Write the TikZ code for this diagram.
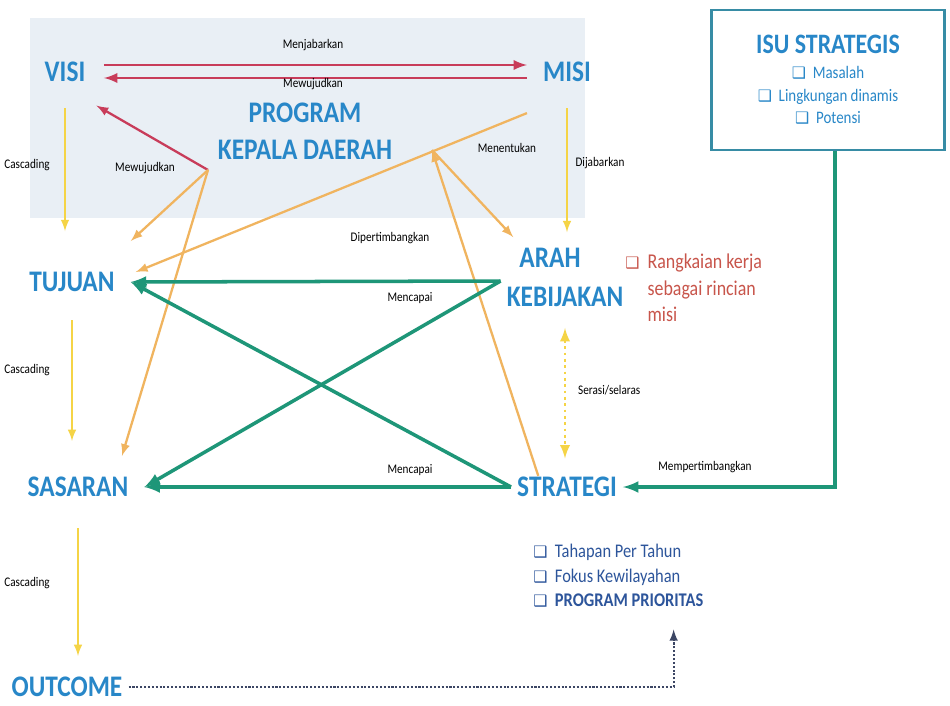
\documentclass[tikz,border=0pt]{standalone}
\usepackage{fontspec}
\setmainfont{Carlito}[FakeStretch=0.85]
\newfontfamily\boxfont{DejaVu Sans}
\usetikzlibrary{calc}

\definecolor{kdblue}{RGB}{40,135,200}
\definecolor{kddark}{RGB}{45,85,155}
\definecolor{kdred}{RGB}{200,60,90}
\definecolor{kdnote}{RGB}{200,85,75}
\definecolor{kdorange}{RGB}{240,180,95}
\definecolor{kdyellow}{RGB}{245,212,70}
\definecolor{kdgreen}{RGB}{30,150,120}
\definecolor{kdback}{RGB}{233,239,245}
\definecolor{kdframe}{RGB}{55,140,165}
\definecolor{kddots}{RGB}{60,70,100}

\newcommand{\cbox}{{\boxfont\small ❑}}

\begin{document}
\begin{tikzpicture}[>=latex, x=0.02cm, y=-0.02cm,
    big/.style={font=\bfseries\fontsize{17}{20}\selectfont, text=kdblue},
    small/.style={font=\fontsize{7.5}{9}\selectfont, text=black},
    redline/.style={draw=kdred, line width=1.6pt},
    orangeline/.style={draw=kdorange, line width=1.3pt},
    yellowline/.style={draw=kdyellow, line width=1.2pt},
    greenline/.style={draw=kdgreen, line width=2pt}]

% white page and shaded band of the top part
\useasboundingbox (0,0) rectangle (950,706);
\fill[white] (0,0) rectangle (950,706);
\fill[kdback] (30,18) rectangle (585,218);

% main terms
\node[big] (visi) at (65,72) {VISI};
\node[big] (misi) at (567,72) {MISI};
\node[big] (program) at (305,113) {PROGRAM};
\node[big] (kepala) at (305,150) {KEPALA DAERAH};
\node[big] (tujuan) at (72,282) {TUJUAN};
\node[big] (arah) at (550,258) {ARAH};
\node[big] (kebijakan) at (565,297) {KEBIJAKAN};
\node[big] (sasaran) at (78,487) {SASARAN};
\node[big] (strategi) at (567,487) {STRATEGI};
\node[big] (outcome) at (67,687) {OUTCOME};

% junctions under the program of the head of region
\coordinate (pkl) at (208,170);
\coordinate (pkr) at (432,150);

% strategic issues
\node[draw=kdframe, line width=1.2pt, minimum width=4.66cm, minimum height=2.8cm,
      align=center, text=kdblue] (isu) at (828,80)
    {{\bfseries\fontsize{16}{18}\selectfont ISU STRATEGIS}\\[2pt]
     \cbox\ \ Masalah\\[1pt]
     \cbox\ \ Lingkungan dinamis\\[1pt]
     \cbox\ \ Potensi};

% notes
\node[anchor=north west, text=kdnote, font=\fontsize{12}{15}\selectfont, inner sep=0pt]
    (note) at (625,250)
    {\begin{tabular}{@{}l@{\ \ }l@{}}
       \cbox & Rangkaian kerja\\
             & sebagai rincian\\
             & misi
     \end{tabular}};
\node[anchor=north west, text=kddark, font=\fontsize{11}{14}\selectfont, inner sep=0pt]
    (items) at (533,540)
    {\begin{tabular}{@{}l@{\ \ }l@{}}
       \cbox & Tahapan Per Tahun\\
       \cbox & Fokus Kewilayahan\\
       \cbox & \bfseries PROGRAM PRIORITAS
     \end{tabular}};

% visi and misi
\draw[redline,->] ([xshift=0.25cm,yshift=0.14cm]visi.east) -- ([xshift=-0.2cm,yshift=0.14cm]misi.west);
\draw[redline,->] ([xshift=-0.2cm,yshift=-0.12cm]misi.west) -- ([xshift=0.25cm,yshift=-0.12cm]visi.east);
\node[small] (menjabarkan) at (313,45) {Menjabarkan};
\node[small] (mewujudkan) at (313,84) {Mewujudkan};

% program kepala daerah
\draw[redline, line width=1.3pt, ->] (pkl) -- ([xshift=0.1cm,yshift=-0.35cm]visi.south east);
\node[small] (mewujudkan2) at (145,168) {Mewujudkan};
\draw[orangeline,->] (pkl) -- ([xshift=0.2cm,yshift=0.5cm]tujuan.north east);
\draw[orangeline,->] (pkl) -- ([xshift=-0.25cm,yshift=0.3cm]sasaran.north east);
\draw[orangeline,->] ([xshift=-0.2cm,yshift=-0.5cm]misi.south west) -- ([xshift=0.3cm,yshift=0.2cm]tujuan.east);
\node[small] (menentukan) at (507,148) {Menentukan};
\draw[orangeline,->] (pkr) -- ([yshift=0.1cm]arah.north west);
\draw[orangeline,->] ([xshift=0.5cm,yshift=-0.1cm]arah.south west |- strategi.north) -- (pkr);
\node[small] (dipertimbangkan) at (390,238) {Dipertimbangkan};

% cascading
\draw[yellowline,->, shorten <=0.4cm, shorten >=0.7cm] (visi.south) -- (visi.south |- tujuan.north);
\draw[yellowline,->, shorten <=0.45cm, shorten >=0.6cm] (tujuan.south) -- (tujuan.south |- sasaran.north);
\draw[yellowline,->, shorten <=0.5cm, shorten >=0.3cm] (sasaran.south) -- (sasaran.south |- outcome.north);
\draw[yellowline,->, shorten <=0.4cm, shorten >=0.2cm] (misi.south) -- (misi.south |- arah.north);
\node[small] (cas1) at (27,165) {Cascading};
\node[small] (cas2) at (27,370) {Cascading};
\node[small] (cas3) at (27,583) {Cascading};
\node[small] (dijabarkan) at (600,163) {Dijabarkan};

% mencapai
\draw[greenline,->] (kebijakan.north west) -- ([xshift=0.2cm]tujuan.east);
\draw[greenline,->] (kebijakan.north west) -- ([xshift=0.2cm]sasaran.east);
\draw[greenline,->] (strategi.west) -- ([xshift=0.2cm]sasaran.east);
\draw[greenline,->] (strategi.west) -- ([xshift=0.2cm]tujuan.east);
\node[small] (mencapai1) at (410,298) {Mencapai};
\node[small] (mencapai2) at (410,470) {Mencapai};

% serasi
\draw[draw=kdyellow, line width=1.6pt, dotted, <->, shorten <=0.3cm, shorten >=0.25cm]
    (kebijakan.south) -- (kebijakan.south |- strategi.north);
\node[small, anchor=west] (serasi) at (572,390) {Serasi/selaras};

% isu strategis
\draw[greenline,->] (isu.south -| 835,0) |- (strategi.east);
\node[small] (mempertimbangkan) at (705,467) {Mempertimbangkan};

% outcome
\draw[draw=kddots, line width=1.2pt, densely dotted, ->]
    (outcome.east) -| ([xshift=-0.6cm,yshift=-0.3cm]items.south east);

\end{tikzpicture}
\end{document}
